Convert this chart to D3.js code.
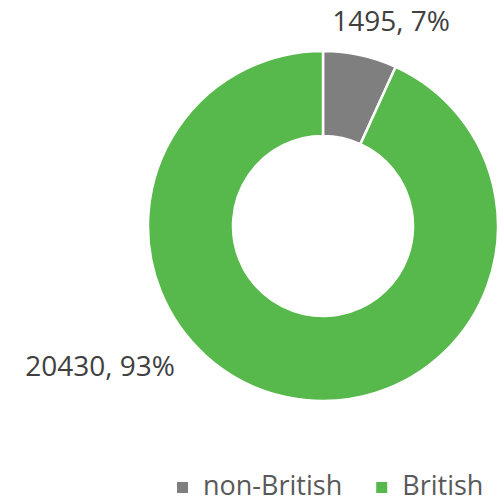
<!DOCTYPE html>
<html>
<head>
<meta charset="utf-8">
<script src="https://cdn.jsdelivr.net/npm/d3@7"></script>
<style>
  body { margin: 0; background: #fff; }
  text { font-family: "Open Sans", "Liberation Sans", sans-serif; }
</style>
</head>
<body>
<svg id="chart" width="498" height="500"></svg>
<script>
// data
const categories = ["non-British", "British"];
const values = [1495, 20430];
const colors = ["#7f7f7f", "#57b94c"];

const width = 498, height = 500;
const cx = 323, cy = 226;
const outerR = 175, innerR = 90;

const svg = d3.select("#chart");
const total = d3.sum(values);
const data = categories.map((c, i) => ({ name: c, value: values[i], color: colors[i] }));

const pie = d3.pie().value(d => d.value).sort(null);
const arc = d3.arc().innerRadius(innerR).outerRadius(outerR);

const g = svg.append("g").attr("transform", `translate(${cx},${cy})`);

g.selectAll(".slice")
  .data(pie(data))
  .join("path")
  .attr("class", "slice")
  .attr("d", arc)
  .attr("fill", d => d.data.color)
  .attr("stroke", "#fff")
  .attr("stroke-width", 2.5);

/* labels: value, percent */
const labelPos = [
  { x: 68, y: -195 },
  { x: -223, y: 150 }
];
g.selectAll(".lbl")
  .data(pie(data))
  .join("text")
  .attr("class", "lbl")
  .attr("x", (d, i) => labelPos[i].x)
  .attr("y", (d, i) => labelPos[i].y)
  .attr("text-anchor", "middle")
  .attr("font-size", 28)
  .attr("fill", "#404040")
  .text(d => `${d.data.value}, ${Math.round(d.data.value / total * 100)}%`);

/* legend */
const legend = svg.append("g").attr("transform", "translate(177,495)");
let lx = 0;
data.forEach((d, i) => {
  const item = legend.append("g").attr("transform", `translate(${lx},0)`);
  item.append("rect").attr("x", 0).attr("y", -13).attr("width", 11).attr("height", 11).attr("fill", d.color);
  const t = item.append("text").attr("x", 26).attr("y", 0)
    .attr("font-size", 27).attr("fill", "#595959").text(d.name);
  lx += 26 + t.node().getComputedTextLength() + 34;
});
</script>
</body>
</html>
